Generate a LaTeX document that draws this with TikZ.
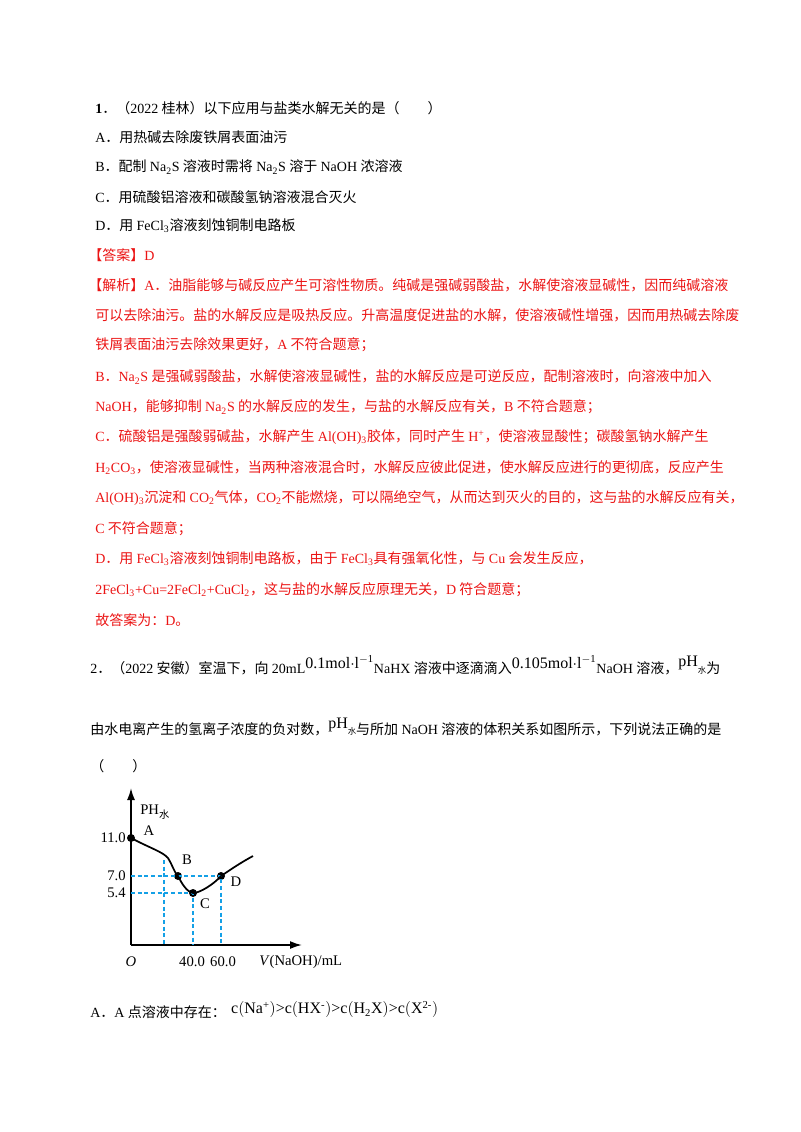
\documentclass[tikz,border=0pt]{standalone}
\usepackage{fontspec}
\usetikzlibrary{arrows.meta}
\setmainfont{Liberation Serif}
\newfontfamily\cjk{Noto Sans CJK SC}
\XeTeXinterchartokenstate=1
\newXeTeXintercharclass\cjkcls
\newXeTeXintercharclass\pcls
\newcount\cc
\cc="4E00 \loop \XeTeXcharclass\cc=\cjkcls \ifnum\cc<"9FFF \advance\cc 1 \repeat
\cc="3000 \loop \XeTeXcharclass\cc=\pcls \ifnum\cc<"303F \advance\cc 1 \repeat
\cc="FF00 \loop \XeTeXcharclass\cc=\pcls \ifnum\cc<"FFEF \advance\cc 1 \repeat
\XeTeXinterchartoks 0 \cjkcls = {\hspace{2.5pt}\begingroup\cjk}
\XeTeXinterchartoks 4095 \cjkcls = {\begingroup\cjk}
\XeTeXinterchartoks \cjkcls 0 = {\endgroup\hspace{2.5pt}}
\XeTeXinterchartoks \cjkcls 4095 = {\endgroup}
\XeTeXinterchartoks 0 \pcls = {\begingroup\cjk}
\XeTeXinterchartoks 4095 \pcls = {\begingroup\cjk}
\XeTeXinterchartoks \pcls 0 = {\endgroup}
\XeTeXinterchartoks \pcls 4095 = {\endgroup}
\XeTeXinterchartoks \pcls \cjkcls = {\endgroup\begingroup\cjk}
\XeTeXinterchartoks \cjkcls \pcls = {\endgroup\begingroup\cjk}
\definecolor{ans}{RGB}{235,20,20}
\definecolor{dashblue}{RGB}{20,160,230}
\tikzset{t/.style={anchor=west,inner sep=0,font=\fontsize{10.5}{12}\selectfont},
 r/.style={t,text=ans},
 lab/.style={inner sep=0,font=\fontsize{11}{12}\selectfont},
 dl/.style={draw=dashblue,densely dashed,line width=0.8pt},
 pt/.style={circle,fill,inner sep=0,minimum size=6pt}}
\newcommand{\sub}[1]{\textsubscript{#1}}
\newcommand{\sups}[1]{\textsuperscript{#1}}
\begin{document}
\begin{tikzpicture}[x=0.75pt,y=-0.75pt]
\useasboundingbox (0,0) rectangle (800,1132);
\node[t] (q1) at (95,108) {\textbf{1}．（2022桂林）以下应用与盐类水解无关的是（　　）};
\node[t] (a1) at (95,137) {A．用热碱去除废铁屑表面油污};
\node[t] (b1) at (95,167) {B．配制Na\sub{2}S溶液时需将Na\sub{2}S溶于NaOH浓溶液};
\node[t] (c1) at (95,197) {C．用硫酸铝溶液和碳酸氢钠溶液混合灭火};
\node[t] (d1) at (95,226) {D．用FeCl\sub{3}溶液刻蚀铜制电路板};
\node[r] (l1) at (88,255) {【答案】D};
\node[r] (l2) at (88,285) {【解析】A．油脂能够与碱反应产生可溶性物质。纯碱是强碱弱酸盐，水解使溶液显碱性，因而纯碱溶液};
\node[r] (l3) at (95,315) {可以去除油污。盐的水解反应是吸热反应。升高温度促进盐的水解，使溶液碱性增强，因而用热碱去除废};
\node[r] (l4) at (95,345) {铁屑表面油污去除效果更好，A不符合题意；};
\node[r] (l5) at (95,377) {B．Na\sub{2}S是强碱弱酸盐，水解使溶液显碱性，盐的水解反应是可逆反应，配制溶液时，向溶液中加入};
\node[r] (l6) at (95,407) {NaOH，能够抑制Na\sub{2}S的水解反应的发生，与盐的水解反应有关，B不符合题意；};
\node[r] (l7) at (95,437) {C．硫酸铝是强酸弱碱盐，水解产生Al(OH)\sub{3}胶体，同时产生H\sups{+}，使溶液显酸性；碳酸氢钠水解产生};
\node[r] (l8) at (95,468) {H\sub{2}CO\sub{3}，使溶液显碱性，当两种溶液混合时，水解反应彼此促进，使水解反应进行的更彻底，反应产生};
\node[r] (l9) at (95,498) {Al(OH)\sub{3}沉淀和CO\sub{2}气体，CO\sub{2}不能燃烧，可以隔绝空气，从而达到灭火的目的，这与盐的水解反应有关，};
\node[r] (l10) at (95,529) {C不符合题意；};
\node[r] (l11) at (95,559) {D．用FeCl\sub{3}溶液刻蚀铜制电路板，由于FeCl\sub{3}具有强氧化性，与Cu会发生反应，};
\node[r] (l12) at (95,590) {2FeCl\sub{3}+Cu=2FeCl\sub{2}+CuCl\sub{2}，这与盐的水解反应原理无关，D符合题意；};
\node[r] (l13) at (95,620) {故答案为：D。};
\node[t] (q2) at (90,665) {2．（2022安徽）室温下，向20mL\raisebox{4pt}{\fontsize{12}{12}\selectfont 0.1mol$\cdot$l\sups{$-$1}}NaHX溶液中逐滴滴入\raisebox{4pt}{\fontsize{12}{12}\selectfont 0.105mol$\cdot$l\sups{$-$1}}NaOH溶液，\raisebox{5pt}{\fontsize{12}{12}\selectfont pH}\scalebox{0.6}{水}为};
\node[t] (q3) at (90,727) {由水电离产生的氢离子浓度的负对数，\raisebox{5pt}{\fontsize{12}{12}\selectfont pH}\scalebox{0.6}{水}与所加NaOH溶液的体积关系如图所示，下列说法正确的是};
\node[t] (q4) at (90,766) {（　　）};
% graph
\coordinate (O) at (131,945);
\coordinate (yt) at (131,788);
\coordinate (xt) at (302,945);
\draw[line width=1.3pt,-{Latex[length=9pt,width=6pt]}] (O) -- (yt);
\draw[line width=1.3pt,-{Latex[length=9pt,width=6pt]}] (O) -- (xt);
\node[pt] (A) at (131,838) {};
\node[pt] (B) at (178,876) {};
\node[pt] (C) at (193,893) {};
\node[pt] (D) at (221,876) {};
\coordinate (v1) at (164,945);
\coordinate (v1t) at (164,860);
\coordinate (v2) at (193,945);
\coordinate (v3) at (221,945);
\coordinate (h1) at (131,876);
\coordinate (h2) at (131,893);
\draw[dl] (h1) -- (D.center) -- (v3);
\draw[dl] (h2) -- (C.center) -- (v2);
\draw[dl] (v1t) -- (v1);
\coordinate (E) at (253,856);
\draw[line width=1.3pt] (A.center) .. controls (150,848) and (163,852) .. (168,858)
  .. controls (172,864) and (174,872) .. (B.center)
  .. controls (182,884) and (187,892) .. (C.center)
  .. controls (200,893) and (214,884) .. (D.center)
  .. controls (230,870) and (240,863) .. (E);
\node[lab,anchor=west] (ylab) at (140,812) {PH\textsubscript{水}};
\node[lab] (la) at (149,831) {A};
\node[lab] (lb) at (187,860) {B};
\node[lab] (lc) at (205,904) {C};
\node[lab] (ld) at (236,882) {D};
\node[lab,anchor=east] (y11) at (126,838) {11.0};
\node[lab,anchor=east] (y7) at (126,876) {7.0};
\node[lab,anchor=east] (y5) at (126,893) {5.4};
\node[lab] (lo) at (131,962) {\textit{O}};
\node[lab] (x40) at (192,962) {40.0};
\node[lab] (x60) at (223,962) {60.0};
\node[lab,anchor=west] (xl) at (259,962) {\textit{V}(NaOH)/mL};
\node[t] (oa) at (90,1010) {A．A点溶液中存在：\hspace{4pt}\raisebox{3pt}{\fontsize{12}{12}\selectfont c$\big($Na\sups{+}$\big)$>c$\big($HX\sups{-}$\big)$>c$\big($H\sub{2}X$\big)$>c$\big($X\sups{2-}$\big)$}};
\end{tikzpicture}
\end{document}
